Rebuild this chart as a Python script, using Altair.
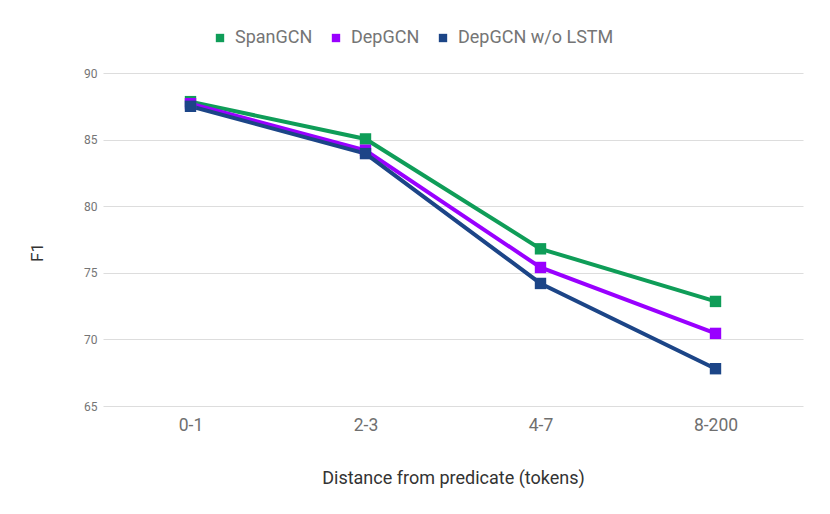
import altair as alt
import pandas as pd

categories = ["0-1", "2-3", "4-7", "8-200"]
series_names = ["SpanGCN", "DepGCN", "DepGCN w/o LSTM"]
span_gcn = [87.85, 85.05, 76.8, 72.85]
dep_gcn = [87.7, 84.2, 75.4, 70.45]
dep_gcn_no_lstm = [87.5, 83.95, 74.2, 67.8]
colors = ["#0F9D58", "#9900FF", "#1C4587"]
y_ticks = [65, 70, 75, 80, 85, 90]

rows = []
for name, vals in zip(series_names, [span_gcn, dep_gcn, dep_gcn_no_lstm]):
    for i, (c, v) in enumerate(zip(categories, vals)):
        rows.append({"cat": c, "F1": v, "series": name, "order": series_names.index(name)})
df = pd.DataFrame(rows)

font = "Roboto"

chart = alt.Chart(df).mark_line(
    strokeWidth=4,
    point=alt.OverlayMarkDef(shape="square", size=130, filled=True, opacity=1),
).encode(
    x=alt.X("cat:N", sort=categories,
            scale=alt.Scale(type="point", padding=0.5),
            axis=alt.Axis(title="Distance from predicate (tokens)", labelAngle=0,
                          labelFontSize=17.5, labelColor="#6f6f6f", labelPadding=10,
                          ticks=False, domain=False, grid=False,
                          titleFontSize=18, titleColor="#333333", titleFontWeight="normal",
                          titleY=72, titleBaseline="middle")),
    y=alt.Y("F1:Q", scale=alt.Scale(domain=[65, 90], nice=False, zero=False),
            axis=alt.Axis(title="F1", values=y_ticks, labelFontSize=12, labelColor="#757575",
                          labelPadding=6, ticks=False, domain=False,
                          gridColor="#dddddd", gridWidth=1,
                          titleFontSize=17, titleColor="#333333", titleFontWeight="normal",
                          titleX=-66, titleY=179, titleAngle=-90, titleBaseline="middle",
                          titleAlign="center")),
    color=alt.Color("series:N", sort=series_names,
                    scale=alt.Scale(domain=series_names, range=colors),
                    legend=alt.Legend(title=None, orient="none", direction="horizontal",
                                      legendX=108, legendY=-44, symbolType="square",
                                      symbolSize=70, symbolStrokeWidth=0,
                                      labelFontSize=18, labelColor="#757575",
                                      labelOffset=6, columnPadding=14, padding=0)),
    order=alt.Order("order:Q"),
).properties(
    width=700, height=333,
    autosize=alt.AutoSizeParams(type="none"),
    padding={"left": 95, "top": 65, "right": 19, "bottom": 90},
).configure(font=font).configure_view(stroke=None)

chart.save("out.html", embed_options={"renderer": "svg", "actions": False})
